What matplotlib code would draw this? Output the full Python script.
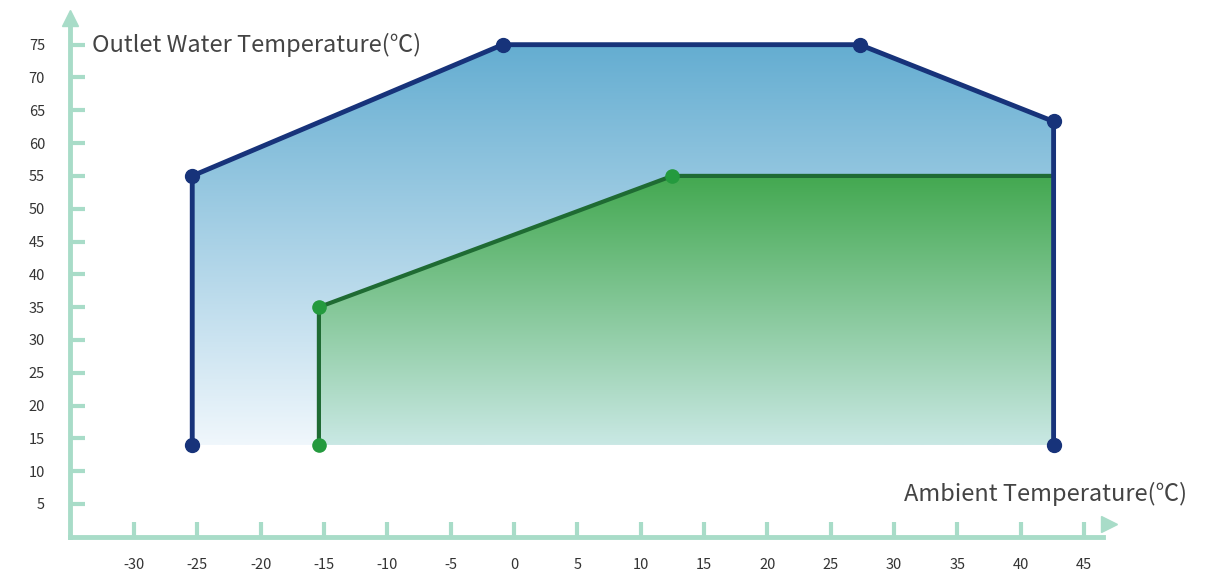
import numpy as np
import matplotlib.pyplot as plt
from matplotlib.colors import LinearSegmentedColormap
from matplotlib.patches import Polygon

plt.rcParams['font.family'] = ['Noto Sans CJK SC', 'DejaVu Sans']

# operating envelope
blue_x = [-25.4, -25.4, -0.9, 27.3, 42.6, 42.6]
blue_y = [14, 55, 75, 75, 63.3, 14]
green_x = [-15.4, -15.4, 12.5, 42.6, 42.6]
green_y = [14, 35, 55, 55, 14]

x_ticks = list(range(-30, 50, 5))
y_ticks = list(range(5, 80, 5))

axis_col = '#a8dcc8'
W, H = 1229, 578
fig = plt.figure(figsize=(W / 100, H / 100), dpi=100)
# spines: x from px 70 to 1103, y from px 536.8 (y=0) up to 25
ax = fig.add_axes([70 / W, (H - 536.8) / H, (1103 - 70) / W, (536.8 - 25) / H])
ax.set_xlim(-35.05, 46.5)
ax.set_ylim(0, 78)

for s in ['top', 'right']:
    ax.spines[s].set_visible(False)
for s in ['left', 'bottom']:
    ax.spines[s].set_color(axis_col)
    ax.spines[s].set_linewidth(3.5)


def grad_fill(xs, ys, top_col, bot_col, y_top):
    cmap = LinearSegmentedColormap.from_list('g', [bot_col, top_col])
    grad = np.linspace(0, 1, 256).reshape(-1, 1)
    im = ax.imshow(grad, cmap=cmap, origin='lower', aspect='auto',
                   extent=[min(xs), max(xs), min(ys), y_top], zorder=1)
    poly = Polygon(list(zip(xs, ys)), closed=True, facecolor='none',
                   edgecolor='none', transform=ax.transData)
    ax.add_patch(poly)
    im.set_clip_path(poly)


grad_fill(blue_x, blue_y, '#64add1', '#f0f7fc', 75)
grad_fill(green_x, green_y, '#43a850', '#c9e8e4', 55)

# green outline (no bottom edge)
ax.plot(green_x[:4], green_y[:4], color='#1f6b33', lw=3, zorder=3,
        solid_capstyle='round')
ax.plot(green_x[:3], green_y[:3], 'o', color='#249a3e', ms=9.5, zorder=4)

ax.plot(blue_x, blue_y, color='#17337a', lw=3.5, zorder=5,
        solid_joinstyle='round')
ax.plot(blue_x, blue_y, 'o', color='#17337a', ms=10, zorder=6)

ax.set_xticks(x_ticks)
ax.set_xticklabels([str(v) for v in x_ticks])
ax.set_yticks(y_ticks)
ax.tick_params(axis='both', direction='in', length=11, width=3,
               color=axis_col, labelsize=10.5, labelcolor='#333333')
ax.tick_params(axis='x', pad=15)
ax.tick_params(axis='y', pad=18)

# axis arrows
ax.plot([-35.05], [79.0], marker='^', ms=12, color=axis_col, clip_on=False,
        zorder=2)
ax.plot([47.0], [2.0], marker='>', ms=11, color=axis_col, clip_on=False,
        zorder=2)

ax.text(-33.3, 75, 'Outlet Water Temperature(℃)', fontsize=17,
        color='#444444', va='center', ha='left')
ax.text(53.1, 6.5, 'Ambient Temperature(℃)', fontsize=17,
        color='#444444', va='center', ha='right', clip_on=False)

fig.savefig('out.png', dpi=100)
